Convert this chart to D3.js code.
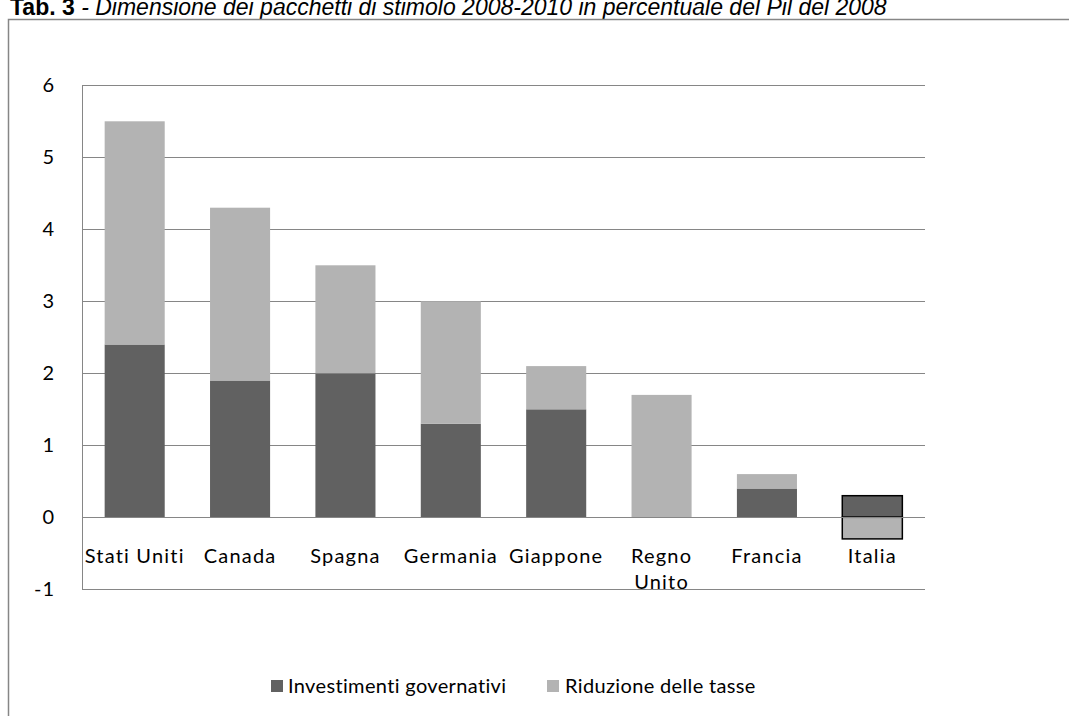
<!DOCTYPE html>
<html>
<head>
<meta charset="utf-8">
<script src="https://cdn.jsdelivr.net/npm/d3@7/dist/d3.min.js"></script>
<style>
  html, body { margin: 0; padding: 0; background: #fff; }
  svg { display: block; }
</style>
</head>
<body>
<svg id="chart" width="1069" height="716"></svg>
<script>
// ---- data ----
const categories = ["Stati Uniti", "Canada", "Spagna", "Germania", "Giappone", "Regno Unito", "Francia", "Italia"];
const investimenti = [2.4, 1.9, 2.0, 1.3, 1.5, 0.0, 0.4, 0.3];
const riduzioneTasse = [3.1, 2.4, 1.5, 1.7, 0.6, 1.7, 0.2, -0.3];
const seriesNames = ["Investimenti governativi", "Riduzione delle tasse"];
const yTicks = [-1, 0, 1, 2, 3, 4, 5, 6];
const titleBold = "Tab. 3";
const titleRest = " - Dimensione dei pacchetti di stimolo 2008-2010 in percentuale del Pil del 2008";
const outlined = ["Italia"];
const wrapped = { "Regno Unito": ["Regno", "Unito"] };

// ---- styling ----
const colors = ["#616161", "#b3b3b3"];
const gridColor = "#868686";
const fontFam = "Lato, 'Open Sans', sans-serif";

const svg = d3.select("#chart");

// title (partially cut off at top in the original)
const title = svg.append("text")
  .attr("x", 10).attr("y", 15)
  .attr("font-family", "'Liberation Sans', Arial, sans-serif")
  .attr("font-size", 23)
  .attr("fill", "#000");
title.append("tspan").attr("font-weight", "bold").text(titleBold);
title.append("tspan").attr("font-style", "italic").text(titleRest);

// outer frame
svg.append("rect")
  .attr("x", 8.5).attr("y", 19.5)
  .attr("width", 1100).attr("height", 720)
  .attr("fill", "none").attr("stroke", "#868686").attr("stroke-width", 1.5);

const plot = { left: 82, right: 925, top: 85.3, bottom: 589.3 };

const x = d3.scaleBand().domain(categories)
  .range([plot.left, plot.right]).paddingInner(0.43).paddingOuter(0.215);
const y = d3.scaleLinear().domain([-1, 6]).range([plot.bottom, plot.top]);

// gridlines
svg.append("g").selectAll("line").data(yTicks).join("line")
  .attr("x1", plot.left).attr("x2", plot.right)
  .attr("y1", d => Math.round(y(d)) + 0.5).attr("y2", d => Math.round(y(d)) + 0.5)
  .attr("stroke", gridColor).attr("stroke-width", 1);

// y axis
const yAxis = svg.append("g")
  .attr("transform", `translate(${plot.left},0)`)
  .call(d3.axisLeft(y).tickValues(yTicks).tickSize(0).tickPadding(27).tickFormat(d => String(d)));
yAxis.select(".domain").attr("stroke", gridColor).attr("d", `M0.5,${y(-1)}V${y(6)}`);
yAxis.selectAll("text").attr("font-family", fontFam).attr("font-size", 20)
  .attr("letter-spacing", 1).attr("fill", "#000");

// stacked bars
const rows = categories.map((c, i) => ({ cat: c, inv: investimenti[i], tax: riduzioneTasse[i] }));
const stack = d3.stack().keys(["inv", "tax"]).offset(d3.stackOffsetDiverging);
const stacked = stack(rows);

svg.append("g").selectAll("g").data(stacked).join("g")
  .attr("fill", (d, i) => colors[i])
  .selectAll("rect").data(d => d).join("rect")
  .attr("x", d => x(d.data.cat))
  .attr("width", x.bandwidth())
  .attr("y", d => y(Math.max(d[0], d[1])))
  .attr("height", d => Math.abs(y(d[0]) - y(d[1])))
  .attr("stroke", d => outlined.includes(d.data.cat) ? "#000" : "none")
  .attr("stroke-width", 1.5);

// zero line drawn over bars (category axis)
svg.append("line")
  .attr("x1", plot.left).attr("x2", plot.right)
  .attr("y1", Math.round(y(0)) + 0.5).attr("y2", Math.round(y(0)) + 0.5)
  .attr("stroke", gridColor);

// category labels
const labels = svg.append("g").selectAll("text").data(categories).join("text")
  .attr("x", d => x(d) + x.bandwidth() / 2)
  .attr("y", 563)
  .attr("text-anchor", "middle")
  .attr("font-family", fontFam).attr("font-size", 20)
  .attr("letter-spacing", 1.2).attr("fill", "#000");
labels.each(function (d) {
  const lines = wrapped[d] || [d];
  const t = d3.select(this);
  lines.forEach((ln, i) => {
    t.append("tspan").attr("x", x(d) + x.bandwidth() / 2).attr("dy", i === 0 ? 0 : 26).text(ln);
  });
});

// legend
const legendPos = [{ sx: 271, tx: 288 }, { sx: 547, tx: 565 }];
const legend = svg.append("g").selectAll("g").data(seriesNames).join("g");
legend.append("rect")
  .attr("x", (d, i) => legendPos[i].sx).attr("y", 680)
  .attr("width", 12).attr("height", 12)
  .attr("fill", (d, i) => colors[i]);
legend.append("text")
  .attr("x", (d, i) => legendPos[i].tx).attr("y", 693)
  .attr("font-family", fontFam).attr("font-size", 20)
  .attr("letter-spacing", 0.35).attr("fill", "#000")
  .text(d => d);
</script>
</body>
</html>
